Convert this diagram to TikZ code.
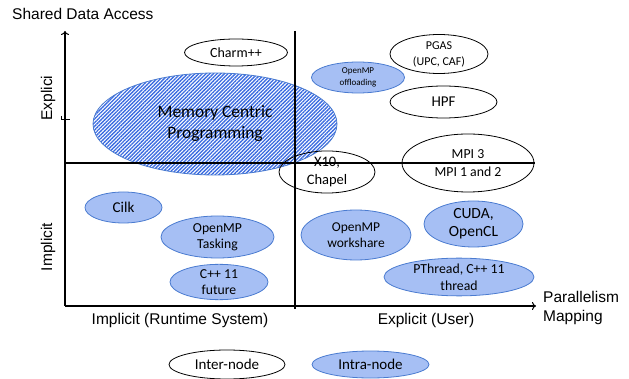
\documentclass[tikz,border=0pt]{standalone}
\usepackage{fontspec}
\setmainfont{Carlito}
\newfontfamily\arialf{Liberation Sans}
\usetikzlibrary{shapes.geometric,patterns.meta,arrows.meta}
\definecolor{fillblue}{HTML}{A6BFF4}
\definecolor{edgeblue}{HTML}{4A7BD0}
\definecolor{hatchblue}{HTML}{3A6BE0}
\begin{document}
\begin{tikzpicture}[x=1pt,y=-1pt,
  blueell/.style={ellipse,draw=edgeblue,fill=fillblue,line width=0.8pt,inner sep=0pt,align=center},
  whiteell/.style={ellipse,draw=black,line width=0.8pt,inner sep=0pt,align=center},
  axis/.style={line width=1.2pt},
  axlabel/.style={font=\arialf\fontsize{15.5}{19}\selectfont}]
\useasboundingbox (0,0) rectangle (629,379);

% hatched big ellipse
\node[ellipse,draw=edgeblue,line width=0.8pt,inner sep=0pt,
      pattern={Lines[angle=45,distance=2.6pt,line width=1.35pt]},pattern color=hatchblue,
      minimum width=244pt,minimum height=102pt,align=center,
      font=\fontsize{17.4}{21}\selectfont] (mcp) at (215,124) {Memory Centric\\Programming};

% white (inter-node) ellipses
\node[whiteell,minimum width=103pt,minimum height=27pt,font=\fontsize{14}{17}\selectfont] (charm) at (236,52.5) {Charm++};
\node[whiteell,minimum width=98pt,minimum height=39pt,font=\fontsize{12}{16}\selectfont] (pgas) at (439,54) {PGAS\\(UPC, CAF)};
\node[whiteell,minimum width=107pt,minimum height=32pt,font=\fontsize{15}{18}\selectfont] (hpf) at (443.5,102) {HPF};
\node[whiteell,minimum width=132pt,minimum height=58pt,font=\fontsize{13.8}{18}\selectfont] (mpi) at (468,163) {MPI 3\\MPI 1 and 2};
\node[whiteell,minimum width=96pt,minimum height=40pt,font=\fontsize{14.5}{18}\selectfont] (x10) at (327,172) {X10,\\Chapel};
\node[whiteell,minimum width=116pt,minimum height=29pt,font=\fontsize{15}{18}\selectfont] (inter) at (227,364.5) {Inter-node};

% blue (intra-node) ellipses
\node[blueell,minimum width=93pt,minimum height=31pt,font=\fontsize{9}{12.5}\selectfont] (omoff) at (358,77.5) {OpenMP\\offloading};
\node[blueell,minimum width=77pt,minimum height=31pt,font=\fontsize{15}{18}\selectfont] (cilk) at (123.5,207.5) {Cilk};
\node[blueell,minimum width=113pt,minimum height=42pt,font=\fontsize{13.7}{16}\selectfont] (omtask) at (217.5,237) {OpenMP\\Tasking};
\node[blueell,minimum width=98pt,minimum height=30pt,font=\fontsize{13.7}{16}\selectfont] (cfut) at (219,282) {C++ 11\\future};
\node[blueell,minimum width=110pt,minimum height=50pt,font=\fontsize{13.5}{16}\selectfont] (omws) at (356,235) {OpenMP\\workshare};
\node[blueell,minimum width=99pt,minimum height=46pt,font=\fontsize{15.5}{18}\selectfont] (cuda) at (473.5,224) {CUDA,\\OpenCL};
\node[blueell,minimum width=150pt,minimum height=36pt,font=\fontsize{13.8}{17}\selectfont] (pthr) at (459,277) {PThread, C++ 11\\thread};
\node[blueell,minimum width=117pt,minimum height=27pt,font=\fontsize{15}{18}\selectfont] (intra) at (370.5,364.5) {Intra-node};

% axis labels
\node[axlabel,anchor=west,inner sep=0pt] (sda) at (12,14) {Shared Data Access};
\node[axlabel,rotate=90,inner sep=0pt] (expl) at (48,98) {Explici};
\node[axlabel,rotate=90,inner sep=0pt] (impl) at (48,247) {Implicit};
\node[axlabel,inner sep=0pt] (irs) at (180,320) {Implicit (Runtime System)};
\node[axlabel,inner sep=0pt] (eu) at (426,320) {Explicit (User)};
\node[axlabel,anchor=west,align=left,inner sep=0pt] (pm) at (543,307.5) {Parallelism\\Mapping};

% axes and quadrant lines
\coordinate (o) at (65,306);
\coordinate (ytop) at (65,31);
\coordinate (xend) at (536,306);
\coordinate (hl) at (65,163);
\coordinate (hr) at (535,163);
\coordinate (vt) at (295,31);
\coordinate (vb) at (295,309);
\coordinate (tl) at (61,116);
\coordinate (tr) at (70,119);
\draw[axis,-{To[length=4pt,width=8pt,line width=1pt]}] (o) -- (ytop);
\draw[axis,-{To[length=4pt,width=8pt,line width=1pt]}] (o) -- (xend);
\draw[axis] (hl) -- (hr);
\draw[axis] (vt) -- (vb);
\draw[line width=0.8pt] (tl) -- ++(0,3) -- (tr);
\end{tikzpicture}
\end{document}
